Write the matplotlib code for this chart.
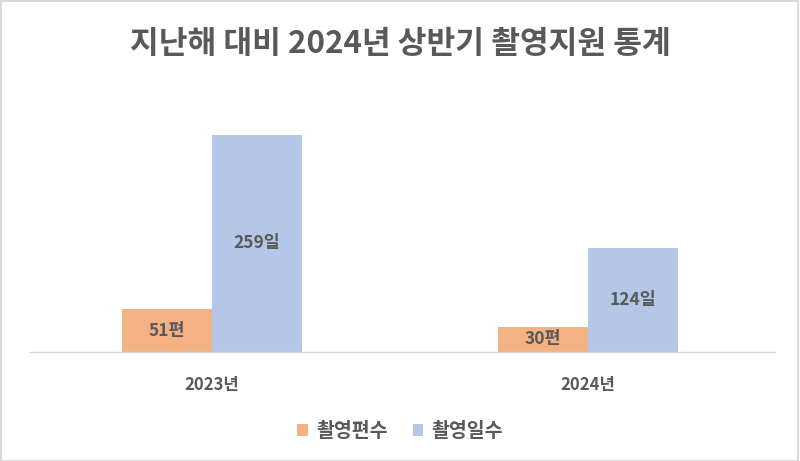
import matplotlib
matplotlib.use("Agg")
import matplotlib.pyplot as plt
from matplotlib.patches import Rectangle
import numpy as np

plt.rcParams['font.family'] = ['Noto Sans CJK KR', 'DejaVu Sans']

categories = ['2023년', '2024년']
series_names = ['촬영편수', '촬영일수']
films = [51, 30]
days = [259, 124]
film_labels = ['51편', '30편']
day_labels = ['259일', '124일']
colors = ['#F4B183', '#B4C7E7']
text_color = '#595959'

fig = plt.figure(figsize=(8, 4.61), dpi=100)
ax = fig.add_axes([0.0375, 0.2364, 0.9313, 0.5454])

x = np.arange(len(categories))
w = 0.2394
b1 = ax.bar(x - w / 2, films, w, color=colors[0], label=series_names[0])
b2 = ax.bar(x + w / 2, days, w, color=colors[1], label=series_names[1])

for rect, lab in zip(b1, film_labels):
    ax.text(rect.get_x() + rect.get_width() / 2, rect.get_height() / 2, lab,
            ha='center', va='center', fontsize=12.5, fontweight='bold', color=text_color)
for rect, lab in zip(b2, day_labels):
    ax.text(rect.get_x() + rect.get_width() / 2, rect.get_height() / 2, lab,
            ha='center', va='center', fontsize=12.5, fontweight='bold', color=text_color)

ax.set_xlim(-0.484, 1.497)
ax.set_ylim(0, 300)
ax.set_yticks([])
ax.set_xticks(x)
ax.set_xticklabels(categories, fontsize=12, fontweight='bold', color=text_color)
ax.tick_params(axis='x', length=0, pad=17)
for s in ['top', 'right', 'left']:
    ax.spines[s].set_visible(False)
ax.spines['bottom'].set_color('#D9D9D9')
ax.spines['bottom'].set_linewidth(1)

fig.text(0.5, 0.905, '지난해 대비 2024년 상반기 촬영지원 통계', ha='center', va='center',
         fontsize=22.5, fontweight='bold', color=text_color)

leg = fig.legend(handles=[b1, b2], labels=series_names, loc='center',
                 bbox_to_anchor=(0.5, 0.064), ncol=2, frameon=False,
                 prop={'size': 14, 'weight': 'bold'}, handlelength=0.55, handleheight=0.55,
                 handletextpad=0.4, columnspacing=1.3)
for t in leg.get_texts():
    t.set_color(text_color)

fig.patches.append(Rectangle((0.001, 0.001), 0.997, 0.997, transform=fig.transFigure,
                             fill=False, edgecolor='#D9D9D9', linewidth=1.5))

fig.savefig('out.png', dpi=100)
